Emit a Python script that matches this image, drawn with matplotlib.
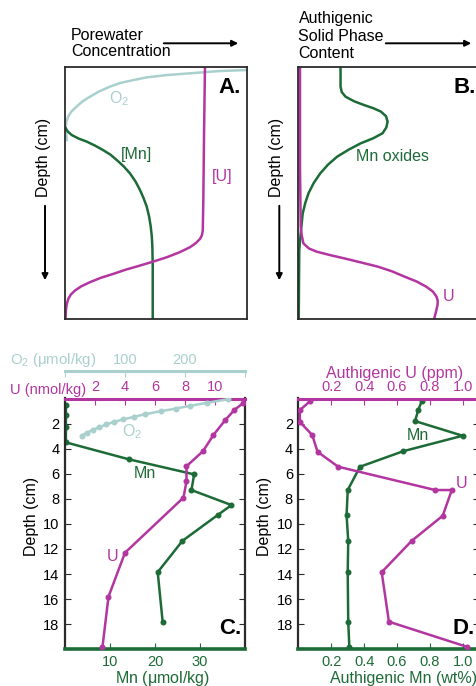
import matplotlib.pyplot as plt

plt.rcParams['font.family'] = ['Liberation Sans', 'DejaVu Sans']
plt.rcParams['mathtext.fontset'] = 'custom'
plt.rcParams['mathtext.rm'] = 'Liberation Sans'

W, H = 477, 686
GREEN = '#1d6b37'
MAGENTA = '#b3359f'
TEAL = '#a9d0cd'
DARK = '#2b2b2b'

# --- panel A: schematic porewater profiles (fraction of width, fraction of depth)
a_o2_x = [1.0, 0.85, 0.742, 0.559, 0.45, 0.375, 0.3, 0.247, 0.19, 0.137, 0.095, 0.064, 0.035, 0.018, 0.008, 0.004, 0.010]
a_o2_d = [0.012, 0.016, 0.022, 0.032, 0.041, 0.052, 0.064, 0.078, 0.096, 0.118, 0.137, 0.157, 0.177, 0.196, 0.216, 0.236, 0.29]
a_mn_x = [0.004, 0.015, 0.037, 0.075, 0.119, 0.165, 0.21, 0.25, 0.284, 0.322, 0.357, 0.388, 0.412, 0.432, 0.449, 0.462, 0.471, 0.477, 0.48, 0.482, 0.482]
a_mn_d = [0.243, 0.256, 0.27, 0.284, 0.296, 0.312, 0.33, 0.348, 0.369, 0.394, 0.422, 0.455, 0.488, 0.521, 0.554, 0.593, 0.633, 0.673, 0.713, 0.792, 1.0]
a_u_x = [0.769, 0.764, 0.76, 0.757, 0.752, 0.742, 0.72, 0.687, 0.63, 0.559, 0.49, 0.412, 0.335, 0.265, 0.195, 0.137, 0.09, 0.055, 0.032, 0.018, 0.009, 0.005, 0.003]
a_u_d = [0.0, 0.265, 0.53, 0.649, 0.668, 0.682, 0.698, 0.715, 0.735, 0.755, 0.771, 0.788, 0.804, 0.821, 0.837, 0.854, 0.87, 0.887, 0.903, 0.92, 0.943, 0.966, 1.0]

# --- panel B: schematic solid phase profiles
b_mn_x = [0.235, 0.235, 0.242, 0.263, 0.31, 0.365, 0.418, 0.458, 0.486, 0.495, 0.488, 0.467, 0.415, 0.346, 0.28, 0.216, 0.165, 0.123, 0.087, 0.058, 0.04, 0.026, 0.015, 0.007, 0.004]
b_mn_d = [0.0, 0.078, 0.1, 0.118, 0.136, 0.151, 0.164, 0.177, 0.195, 0.217, 0.24, 0.263, 0.283, 0.303, 0.328, 0.356, 0.388, 0.422, 0.46, 0.501, 0.54, 0.581, 0.66, 0.726, 1.0]
b_u_x = [0.011, 0.011, 0.015, 0.021, 0.03, 0.06, 0.104, 0.175, 0.253, 0.345, 0.44, 0.52, 0.589, 0.655, 0.709, 0.745, 0.765, 0.772, 0.771, 0.762, 0.752]
b_u_d = [0.0, 0.4, 0.634, 0.67, 0.7, 0.72, 0.733, 0.746, 0.759, 0.775, 0.792, 0.811, 0.832, 0.851, 0.872, 0.891, 0.911, 0.928, 0.944, 0.972, 1.0]

# --- panel C: porewater data
c_mn_depth = [0.5, 1.3, 2.3, 3.5, 4.85, 6.05, 7.3, 8.5, 9.3, 11.35, 13.85, 17.8]
c_mn = [0.2, 0.2, 0.2, 0.2, 14.2, 28.7, 28.1, 37.0, 33.9, 26.1, 20.6, 21.7]
c_u_depth = [0.35, 0.9, 1.7, 2.9, 4.2, 5.4, 6.6, 7.9, 12.3, 15.8, 19.8]
c_u = [11.9, 11.3, 10.7, 9.9, 9.2, 8.1, 8.1, 7.9, 4.0, 2.9, 2.5]
c_o2_depth = [2.97, 2.73, 2.52, 2.29, 2.07, 1.86, 1.67, 1.46, 1.25, 1.01, 0.8, 0.59, 0.35, 0.06]
c_o2 = [28, 36, 46, 57, 69, 82, 97, 115, 134, 160, 185, 208, 236, 271]

# --- panel D: authigenic solid phase data
d_mn_depth = [0.21, 0.88, 1.8, 2.97, 4.2, 5.44, 7.3, 9.3, 11.35, 13.85, 17.8, 19.83]
d_mn = [0.751, 0.731, 0.71, 1.0, 0.639, 0.375, 0.3, 0.293, 0.303, 0.3, 0.303, 0.31]
d_u_depth = [0.19, 0.93, 1.86, 2.92, 4.25, 5.44, 7.3, 7.3, 9.35, 11.35, 13.85, 17.8, 19.8]
d_u = [0.073, 0.008, 0.008, 0.084, 0.116, 0.242, 0.833, 0.934, 0.879, 0.69, 0.507, 0.551, 1.026]

fig = plt.figure(figsize=(W / 100, H / 100), dpi=100)


def rect(l, t, r, b):
    return [l / W, 1 - b / H, (r - l) / W, (b - t) / H]


def ftext(x, y, s, **kw):
    kw.setdefault('fontsize', 11.5)
    fig.text(x / W, 1 - y / H, s, **kw)


def arrow(x0, y0, x1, y1):
    fig.add_artist(plt.matplotlib.patches.FancyArrowPatch(
        (x0 / W, 1 - y0 / H), (x1 / W, 1 - y1 / H), transform=fig.transFigure,
        arrowstyle='-|>', mutation_scale=9, color='black', lw=1.4))


def schematic(ax):
    ax.set_xlim(0, 1)
    ax.set_ylim(1, 0)
    ax.set_xticks([])
    ax.set_yticks([])
    for s in ax.spines.values():
        s.set_color(DARK)
        s.set_linewidth(1.3)


# A
axA = fig.add_axes(rect(65, 67, 247, 319))
axA.plot(a_o2_x, a_o2_d, color=TEAL, lw=1.8)
axA.plot(a_mn_x, a_mn_d, color=GREEN, lw=1.8)
axA.plot(a_u_x, a_u_d, color=MAGENTA, lw=1.8)
schematic(axA)
axA.text(0.30, 0.125, r'O$_\mathregular{2}$', color=TEAL, fontsize=11.5, ha='center', va='center')
axA.text(0.394, 0.349, '[Mn]', color=GREEN, fontsize=11.5, ha='center', va='center')
axA.text(0.861, 0.435, '[U]', color=MAGENTA, fontsize=11.5, ha='center', va='center')
axA.text(0.965, 0.917, 'A.', transform=axA.transAxes, fontsize=16, fontweight='bold',
         ha='right', va='center')
ftext(71, 39.5, 'Porewater', va='baseline')
ftext(71, 56, 'Concentration', va='baseline')
arrow(161, 43.3, 241, 43.3)
ftext(43.5, 157, 'Depth (cm)', rotation=90, ha='center', va='center')
arrow(45, 203, 45, 283)

# B
axB = fig.add_axes(rect(298, 67, 479, 319))
axB.plot(b_mn_x, b_mn_d, color=GREEN, lw=1.8)
axB.plot(b_u_x, b_u_d, color=MAGENTA, lw=1.8)
schematic(axB)
axB.text(0.32, 0.356, 'Mn oxides', color=GREEN, fontsize=11.5, ha='left', va='center')
axB.text(0.83, 0.911, 'U', color=MAGENTA, fontsize=11.5, ha='center', va='center')
axB.text(0.985, 0.917, 'B.', transform=axB.transAxes, fontsize=16, fontweight='bold',
         ha='right', va='center')
ftext(298.5, 22.7, 'Authigenic', va='baseline')
ftext(298.5, 40.7, 'Solid Phase', va='baseline')
ftext(298.5, 58.3, 'Content', va='baseline')
arrow(383, 43.3, 474, 43.3)
ftext(277, 157, 'Depth (cm)', rotation=90, ha='center', va='center')
arrow(279.3, 203, 279.3, 283)

# C
axC = fig.add_axes(rect(65, 398.5, 245, 649.3))
axC.plot(c_mn, c_mn_depth, color=GREEN, lw=1.8, marker='o', ms=3.3)
axC.set_xlim(0, 40)
axC.set_ylim(20, 0)
axC.set_xticks([10, 20, 30])
axC.set_yticks(range(2, 20, 2))
axC.tick_params(direction='in', length=4, labelsize=10.5, pad=4)
axC.tick_params(axis='y', right=True, colors=DARK, labelcolor='black')
axC.tick_params(axis='x', colors=GREEN)
axC.spines['bottom'].set_color(GREEN)
axC.spines['bottom'].set_linewidth(2.6)
axC.spines['top'].set_visible(False)
for s in ('left', 'right'):
    axC.spines[s].set_color(DARK)
    axC.spines[s].set_linewidth(1.6)

axCu = axC.twiny()
axCu.plot(c_u, c_u_depth, color=MAGENTA, lw=1.8, marker='o', ms=3.3)
axCu.set_xlim(0, 12)
axCu.set_xticks([2, 4, 6, 8, 10])
axCu.tick_params(direction='in', length=4, labelsize=10.5, pad=3, colors=MAGENTA)
for s in ('left', 'right', 'bottom'):
    axCu.spines[s].set_visible(False)
axCu.spines['top'].set_color(MAGENTA)
axCu.spines['top'].set_linewidth(2.2)

axCo = axC.twiny()
axCo.plot(c_o2, c_o2_depth, color=TEAL, lw=1.8, marker='o', ms=3.3)
axCo.set_xlim(0, 300)
axCo.set_xticks([0, 100, 200, 300])
axCo.set_xticklabels(['', '100', '200', ''])
axCo.tick_params(direction='in', length=4, labelsize=10.5, pad=3, colors=TEAL)
for s in ('left', 'right', 'bottom'):
    axCo.spines[s].set_visible(False)
axCo.spines['top'].set_position(('outward', 19.7))
axCo.spines['top'].set_color(TEAL)
axCo.spines['top'].set_linewidth(2.2)

ftext(10, 360, r'O$_\mathregular{2}$ ($\mathregular{\mu}$mol/kg)', color=TEAL, va='center',
      fontsize=10.8)
ftext(10, 390, 'U (nmol/kg)', color=MAGENTA, va='center', fontsize=10.5)
ftext(131.7, 432, r'O$_\mathregular{2}$', color=TEAL, ha='center', va='center')
ftext(145, 473.3, 'Mn', color=GREEN, ha='center', va='center')
ftext(112.3, 556.7, 'U', color=MAGENTA, ha='center', va='center')
ftext(241, 628.3, 'C.', fontsize=16, fontweight='bold', ha='right', va='center')
ftext(31.7, 516.7, 'Depth (cm)', rotation=90, ha='center', va='center')
ftext(162.5, 678, r'Mn ($\mathregular{\mu}$mol/kg)', color=GREEN, ha='center', va='center')

# D
axD = fig.add_axes(rect(298.5, 398.5, 479, 649.3))
axD.plot(d_mn, d_mn_depth, color=GREEN, lw=1.8, marker='o', ms=3.3)
axD.set_xlim(0, 1.1)
axD.set_ylim(20, 0)
axD.set_xticks([0.2, 0.4, 0.6, 0.8, 1.0])
axD.set_xticklabels(['0.2', '0.4', '0.6', '0.8', '1.0'])
axD.set_yticks(range(2, 20, 2))
axD.tick_params(direction='in', length=4, labelsize=10.5, pad=4)
axD.tick_params(axis='y', right=True, colors=DARK, labelcolor='black')
axD.tick_params(axis='x', colors=GREEN)
axD.spines['bottom'].set_color(GREEN)
axD.spines['bottom'].set_linewidth(2.6)
axD.spines['top'].set_visible(False)
for s in ('left', 'right'):
    axD.spines[s].set_color(DARK)
    axD.spines[s].set_linewidth(1.6)

axDu = axD.twiny()
axDu.plot(d_u, d_u_depth, color=MAGENTA, lw=1.8, marker='o', ms=3.3)
axDu.set_xlim(0, 1.1)
axDu.set_xticks([0.2, 0.4, 0.6, 0.8, 1.0])
axDu.set_xticklabels(['0.2', '0.4', '0.6', '0.8', '1.0'])
axDu.tick_params(direction='in', length=4, labelsize=10.5, pad=3, colors=MAGENTA)
for s in ('left', 'right', 'bottom'):
    axDu.spines[s].set_visible(False)
axDu.spines['top'].set_color(MAGENTA)
axDu.spines['top'].set_linewidth(2.2)

ftext(395, 373.3, 'Authigenic U (ppm)', color=MAGENTA, ha='center', va='center')
ftext(418.3, 435, 'Mn', color=GREEN, ha='center', va='center')
ftext(461.7, 483.3, 'U', color=MAGENTA, ha='center', va='center')
ftext(475, 628.3, 'D.', fontsize=16, fontweight='bold', ha='right', va='center')
ftext(265, 516.7, 'Depth (cm)', rotation=90, ha='center', va='center')
ftext(403.3, 678, 'Authigenic Mn (wt%)', color=GREEN, ha='center', va='center')

fig.savefig('out.png', dpi=100)
